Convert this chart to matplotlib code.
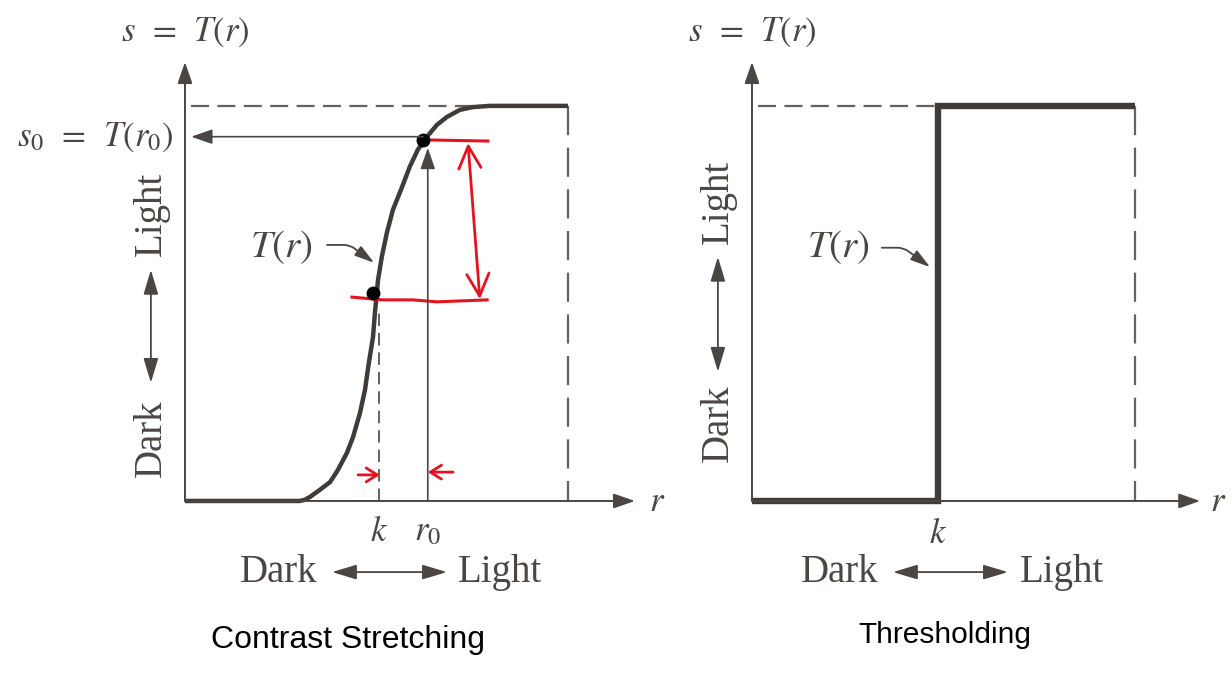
import matplotlib

matplotlib.use("Agg")
import matplotlib.pyplot as plt

plt.rcParams["mathtext.fontset"] = "stix"
plt.rcParams["lines.scale_dashes"] = False

INK = "#4b4641"
CURVE = "#403b36"
RED = "#e5121f"
SERIF = "Liberation Serif"

# contrast-stretching transfer function T(r)
stretch_r = [0.0, 0.300, 0.313, 0.326, 0.352, 0.379, 0.399, 0.423, 0.439,
             0.457, 0.470, 0.480, 0.491, 0.496, 0.501, 0.504, 0.514, 0.527,
             0.543, 0.567, 0.587, 0.608, 0.632, 0.658, 0.684, 0.718, 0.752,
             0.796, 1.0]
stretch_s = [0.0, 0.0, 0.003, 0.010, 0.028, 0.048, 0.078, 0.122, 0.162,
             0.223, 0.281, 0.349, 0.415, 0.476, 0.527, 0.559, 0.618, 0.678,
             0.737, 0.795, 0.846, 0.889, 0.922, 0.952, 0.972, 0.990, 0.997,
             1.0, 1.0]
k_stretch = 0.507
r0 = 0.634
s0 = 0.922

# thresholding transfer function: a step at k
k_thresh = 0.486
thresh_r = [0.0, k_thresh, k_thresh, 1.0]
thresh_s = [0.0, 0.0, 1.0, 1.0]

# hand-drawn markings on the stretching panel
marked_r = [0.491, 0.621]
marked_s = [0.527, 0.914]
top_mark_r = [0.621, 0.791]
top_mark_s = [0.914, 0.911]
low_mark_r = [0.436, 0.516, 0.595, 0.658, 0.789]
low_mark_s = [0.516, 0.509, 0.509, 0.504, 0.509]

YLIM = (-0.443, 1.268)
AXIS_TOP = 1.111
HEAD = "-|>,head_length=1.3,head_width=0.45"
BOTH = "<|-|>,head_length=1.5,head_width=0.45"


def arrow(ax, start, end, style, color=INK, lw=1.4, scale=10, **kw):
    ax.annotate("", xy=end, xytext=start,
                arrowprops=dict(arrowstyle=style, color=color, lw=lw,
                                shrinkA=0, shrinkB=0, mutation_scale=scale, **kw),
                annotation_clip=False)


def frame(ax, x_end, r_lab, side_y, side_arrow, bottom):
    # axes with arrowheads
    arrow(ax, (0, 0), (0, AXIS_TOP), HEAD)
    arrow(ax, (0, 0), (x_end, 0), HEAD)
    ax.text(0, 1.187, r"$s\enspace=\enspace T(r)$", ha="center", va="center",
            fontsize=25, color=INK)
    ax.text(r_lab, 0.0, r"$r$", ha="center", va="center", fontsize=25,
            color=INK)

    # dashed limits of the output and input range
    ax.plot([0.015, 1.0], [1.0, 1.0], color=INK, lw=1.6, alpha=0.85,
            dashes=(13, 6))
    ax.plot([1.0, 1.0], [1.0, 0.0], color=INK, lw=1.6, alpha=0.85,
            dashes=(21, 9))

    # Dark / Light guides
    ax.text(-0.089, side_y[0], "Light", rotation=90, ha="center", va="center",
            family=SERIF, fontsize=28, color=INK)
    ax.text(-0.089, side_y[1], "Dark", rotation=90, ha="center", va="center",
            family=SERIF, fontsize=28, color=INK)
    arrow(ax, (-0.089, side_arrow[0]), (-0.089, side_arrow[1]), BOTH, lw=1.3)

    dark_x, a0, a1, light_x = bottom
    ax.text(dark_x, -0.180, "Dark", ha="center", va="center",
            family=SERIF, fontsize=28, color=INK)
    ax.text(light_x, -0.180, "Light", ha="center", va="center",
            family=SERIF, fontsize=28, color=INK)
    arrow(ax, (a0, -0.180), (a1, -0.180), BOTH, lw=1.3)


fig = plt.figure(figsize=(12.32, 6.76), dpi=100)

# ---- contrast stretching ----
ax1 = fig.add_axes([0, 0, 1, 1])
ax1.set_xlim(-0.483, 2.734)
ax1.set_ylim(*YLIM)
ax1.axis("off")
frame(ax1, 1.175, 1.232, (0.727, 0.159), (0.585, 0.299),
      (0.245, 0.384, 0.684, 0.822))

ax1.plot([k_stretch, k_stretch], [0.0, 0.49], color=INK, lw=1.4, alpha=0.85,
         dashes=(9, 5))
ax1.plot(stretch_r, stretch_s, color=CURVE, lw=3.2, solid_capstyle="butt",
         solid_joinstyle="round")

# r0 -> T(r0) -> s0
arrow(ax1, (r0, 0.0), (r0, s0 - 0.028), HEAD, lw=1.2)
arrow(ax1, (r0 - 0.012, s0), (0.016, s0), HEAD, lw=1.2)
ax1.text(-0.031, s0, r"$s_0\enspace=\enspace T(r_0)$", ha="right",
         va="center", fontsize=25, color=INK)

ax1.text(0.253, 0.643, r"$T(r)$", ha="center", va="center", fontsize=28,
         color=INK)
arrow(ax1, (0.371, 0.648), (0.494, 0.603), "-|>,head_length=1.2,head_width=0.35",
      lw=1.3, connectionstyle="angle,angleA=0,angleB=-36,rad=6")

ax1.text(k_stretch, -0.075, r"$k$", ha="center", va="center", fontsize=25,
         color=INK)
ax1.text(r0, -0.075, r"$r_0$", ha="center", va="center", fontsize=25,
         color=INK)

# red markings
ax1.plot(top_mark_r, top_mark_s, color=RED, lw=2.2)
ax1.plot(low_mark_r, low_mark_s, color=RED, lw=2.2)
arrow(ax1, (0.739, 0.906), (0.770, 0.511), "<->,head_length=1.6,head_width=0.8",
      color=RED, lw=2.0)
arrow(ax1, (0.452, 0.066), (0.509, 0.066), "->,head_length=0.8,head_width=0.5",
      color=RED, lw=2.0)
arrow(ax1, (0.700, 0.073), (0.634, 0.073), "->,head_length=0.8,head_width=0.5",
      color=RED, lw=2.0)
ax1.plot(marked_r, marked_s, "o", color="black", ms=9)

ax1.text(0.426, -0.352, "Contrast Stretching", ha="center", va="center",
         family="Liberation Sans", fontsize=23, color="black")

# ---- thresholding ----
ax2 = fig.add_axes([0, 0, 1, 1])
ax2.patch.set_alpha(0)
ax2.set_xlim(-1.963, 1.253)
ax2.set_ylim(*YLIM)
ax2.axis("off")
frame(ax2, 1.170, 1.217, (0.757, 0.197), (0.618, 0.327),
      (0.230, 0.368, 0.668, 0.809))

ax2.plot(thresh_r, thresh_s, color=CURVE, lw=4.6, solid_joinstyle="miter",
         solid_capstyle="butt")
ax2.text(0.225, 0.643, r"$T(r)$", ha="center", va="center", fontsize=28,
         color=INK)
arrow(ax2, (0.339, 0.641), (0.465, 0.592), "-|>,head_length=1.2,head_width=0.35",
      lw=1.3, connectionstyle="angle,angleA=0,angleB=-36,rad=6")
ax2.text(k_thresh, -0.080, r"$k$", ha="center", va="center", fontsize=25,
         color=INK)

ax2.text(0.504, -0.339, "Thresholding", ha="center", va="center",
         family="Liberation Sans", fontsize=21.5, color="black")

fig.savefig("out.png", dpi=100)
